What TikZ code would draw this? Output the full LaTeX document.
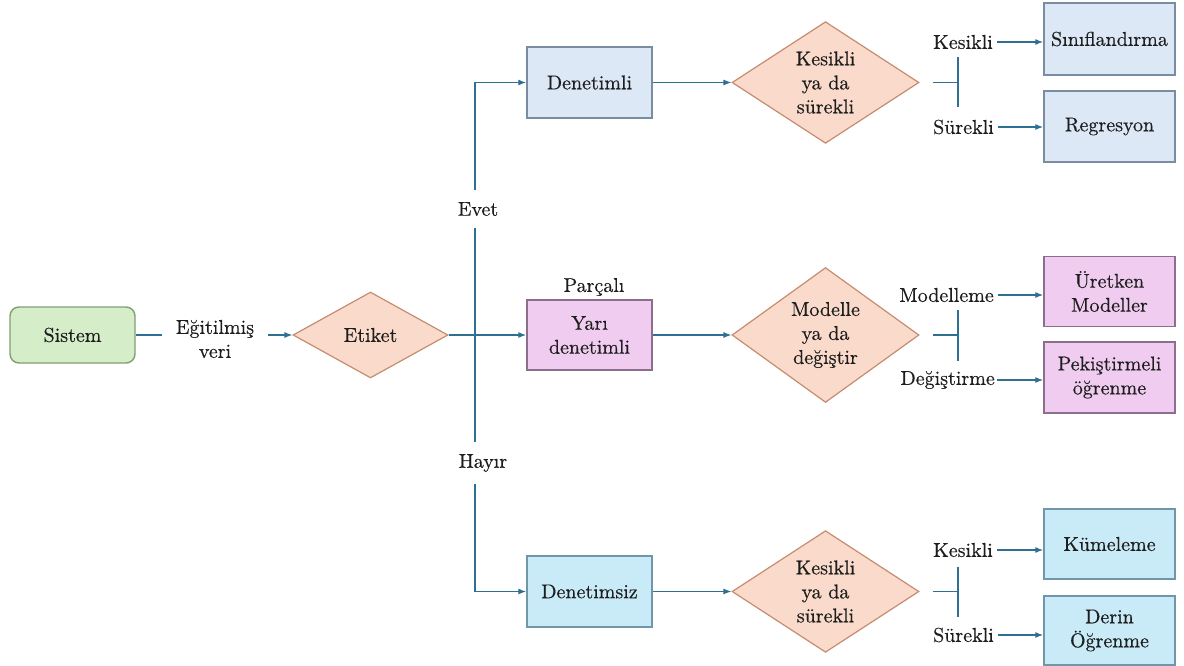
\documentclass[tikz,border=0pt]{standalone}
\usepackage{fontspec}
\IfFontExistsTF{lmroman10-regular.otf}
  {\newfontfamily\tnr{lmroman10-regular.otf}[FakeBold=0.4]}
  {\newfontfamily\tnr{Latin Modern Roman}}
\usetikzlibrary{shapes.geometric,arrows.meta}
\definecolor{lineblue}{HTML}{2F6F91}
\definecolor{txt}{HTML}{1E1E1E}
\definecolor{sysfill}{HTML}{D6EDC9}
\definecolor{sysdraw}{HTML}{7F9F72}
\definecolor{dmfill}{HTML}{F9DACB}
\definecolor{dmdraw}{HTML}{C68C70}
\definecolor{bluefill}{HTML}{DCE8F6}
\definecolor{bluedraw}{HTML}{7A8CA0}
\definecolor{cyanfill}{HTML}{C9EBF8}
\definecolor{cyandraw}{HTML}{6F97A8}
\definecolor{pinkfill}{HTML}{F0CDF0}
\definecolor{pinkdraw}{HTML}{8C6F8C}
\begin{document}
\begin{tikzpicture}[x=1pt,y=-1pt,
  every node/.style={font=\tnr\fontsize{20}{24}\selectfont, text=txt, align=center},
  box/.style={rectangle, draw, line width=1.4pt, minimum width=125pt, inner sep=0pt},
  rbox/.style={box, minimum width=131pt},
  bluebox/.style={fill=bluefill, draw=bluedraw},
  cyanbox/.style={fill=cyanfill, draw=cyandraw},
  pinkbox/.style={fill=pinkfill, draw=pinkdraw},
  dmd/.style={diamond, draw=dmdraw, fill=dmfill, line width=1.2pt, inner sep=0pt, minimum width=187pt, minimum height=108pt},
  lbl/.style={inner sep=3pt},
  blbl/.style={anchor=east, inner xsep=4pt, inner ysep=3pt},
  ln/.style={draw=lineblue, line width=1.2pt},
  arr/.style={ln, -{Latex[length=8pt,width=6pt]}}
]
\useasboundingbox (0,0) rectangle (1184,666);

% left part
\node[rectangle, rounded corners=9pt, draw=sysdraw, fill=sysfill, line width=1.4pt,
      minimum width=125pt, minimum height=56pt] (sys) at (72.5,335) {Sistem};
\node[inner xsep=14pt] (egit) at (215,339) {Eğitilmiş\\veri};
\node[dmd, minimum width=155pt, minimum height=86pt] (etiket) at (370.5,335) {Etiket};

\coordinate (jx) at (475,335);
\node[inner ysep=12pt] (evet) at (478,209) {Evet};
\node[inner ysep=12pt] (hayir) at (483,463) {Hayır};

% middle column boxes
\node[box, bluebox, minimum height=71pt] (den) at (589.5,82.5) {Denetimli};
\node[box, pinkbox, minimum height=70pt] (yari) at (589.5,335) {Yarı\\denetimli};
\node[lbl] (parc) at (594,287) {Parçalı};
\node[box, cyanbox, minimum height=71pt] (densiz) at (589.5,591.5) {Denetimsiz};

% diamonds
\node[dmd, minimum height=109pt] (d1) at (825.5,82.5) {Kesikli\\ya da\\sürekli};
\node[dmd, minimum height=106pt] (d2) at (825.5,335) {Modelle\\ya da\\değiştir};
\node[dmd, minimum height=109pt] (d3) at (825.5,591.5) {Kesikli\\ya da\\sürekli};

% splitter junctions
\coordinate (s1) at (958,82.5);
\coordinate (s2) at (958,335);
\coordinate (s3) at (958,591.5);

% branch labels
\node[blbl] (k1) at (997,42) {Kesikli};
\node[blbl] (su1) at (998,127) {Sürekli};
\node[blbl] (mo) at (998,295) {Modelleme};
\node[blbl, inner xsep=2pt] (de) at (997,380) {Değiştirme};
\node[blbl] (k3) at (997,550) {Kesikli};
\node[blbl] (su3) at (998,635) {Sürekli};

% right boxes
\node[rbox, bluebox, minimum height=72pt] (sinif) at (1109.5,39) {Sınıflandırma};
\node[rbox, bluebox, minimum height=71pt] (regr) at (1109.5,126.5) {Regresyon};
\node[rbox, pinkbox, minimum height=70pt] (uret) at (1109.5,291.5) {Üretken\\Modeller};
\node[rbox, pinkbox, minimum height=71pt] (pek) at (1109.5,377.5) {Pekiştirmeli\\öğrenme};
\node[rbox, cyanbox, minimum height=70pt] (kume) at (1109.5,544) {Kümeleme};
\node[rbox, cyanbox, minimum height=69pt] (derin) at (1109.5,630.5) {Derin\\Öğrenme};

% connectors
\draw[ln] (sys.east) -- (egit.west |- sys.east);
\draw[arr] (egit.east |- etiket.west) -- (etiket.west);
\draw[ln] (etiket.east) -- (jx);
\draw[arr] (jx) -- (yari.west);
\draw[arr] (evet.north -| jx) |- (den.west);
\draw[ln] (evet.south -| jx) -- (hayir.north -| jx);
\draw[arr] (hayir.south -| jx) |- (densiz.west);

\draw[arr] (den.east) -- (d1.west);
\draw[arr] (yari.east) -- (d2.west);
\draw[arr] (densiz.east) -- (d3.west);

\draw[ln] ([xshift=13pt]d1.east) -- (s1);
\draw[ln] ([yshift=25pt]s1) -- ([yshift=-25pt]s1);
\draw[ln] ([xshift=13pt]d2.east) -- (s2);
\draw[ln] ([yshift=25pt]s2) -- ([yshift=-26pt]s2);
\draw[ln] ([xshift=13pt]d3.east) -- (s3);
\draw[ln] ([yshift=25pt]s3) -- ([yshift=-25pt]s3);

\draw[arr] (k1.east) -- (k1.east -| sinif.west);
\draw[arr] (su1.east) -- (su1.east -| regr.west);
\draw[arr] (mo.east) -- (mo.east -| uret.west);
\draw[arr] (de.east) -- (de.east -| pek.west);
\draw[arr] (k3.east) -- (k3.east -| kume.west);
\draw[arr] (su3.east) -- (su3.east -| derin.west);
\end{tikzpicture}
\end{document}
